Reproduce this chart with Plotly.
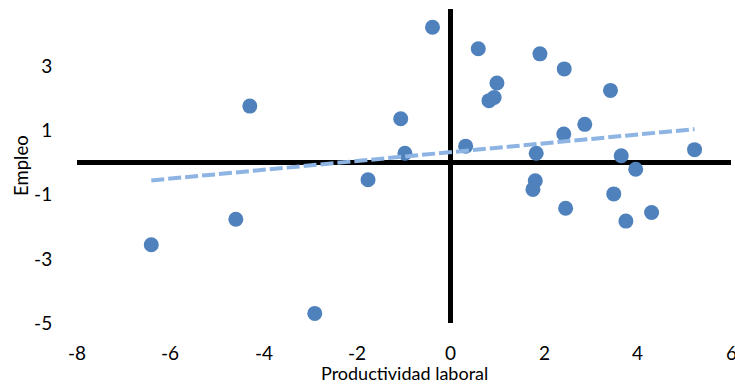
import numpy as np
import plotly.graph_objects as go

# Productividad laboral (x) vs. empleo (y)
productividad = [-4.30, -4.60, -6.41, -2.91, -1.77, -0.39, 0.59, 1.91, 2.43, 3.42,
                 0.99, 0.82, 0.93, -1.07, 2.87, 2.42, 0.32, -0.98, 1.83, 3.65,
                 5.22, 3.96, 1.81, 1.76, 3.49, 2.46, 4.30, 3.75]
empleo = [1.77, -1.76, -2.56, -4.70, -0.53, 4.23, 3.56, 3.40, 2.93, 2.26,
          2.49, 1.94, 2.04, 1.375, 1.20, 0.90, 0.52, 0.30, 0.30, 0.22,
          0.41, -0.20, -0.56, -0.83, -0.97, -1.42, -1.55, -1.82]

x_ticks = [-8, -6, -4, -2, 0, 2, 4, 6]
y_ticks = [-5, -3, -1, 1, 3]

# Linear trend over the data range
slope, intercept = np.polyfit(productividad, empleo, 1)
tx = np.array([min(productividad), max(productividad)])
ty = slope * tx + intercept

FONT = "Lato"
TICK_SIZE = 19

fig = go.Figure()
fig.add_trace(go.Scatter(
    x=productividad, y=empleo, mode="markers",
    marker=dict(size=15, color="#4F81BD"),
    showlegend=False, hoverinfo="x+y",
))
fig.add_trace(go.Scatter(
    x=tx, y=ty, mode="lines",
    line=dict(color="#8DB4E2", width=4, dash="13px,4px"),
    showlegend=False, hoverinfo="skip",
))

# Tick labels drawn as annotations so the last one may run past the edge
annotations = []
for v in x_ticks:
    annotations.append(dict(
        x=v, y=-5, xref="x", yref="y", text=str(v), showarrow=False,
        yshift=-29, font=dict(size=TICK_SIZE, family=FONT, color="black"),
        xanchor="center", yanchor="middle",
    ))
annotations.append(dict(
    x=405, y=372.5, xref="paper", yref="paper", text="Productividad laboral",
    showarrow=False, font=dict(size=18, family=FONT, color="black"),
))
annotations.append(dict(
    x=21, y=166, xref="paper", yref="paper", text="Empleo", textangle=-90,
    showarrow=False, font=dict(size=18.5, family=FONT, color="black"),
))

# Convert pixel positions of the axis titles into paper fractions
W, H = 735, 384
L, R, T, B = 77, 4, 9, 61
for a in annotations[-2:]:
    px, py = a["x"], a["y"]
    a["x"] = (px - L) / (W - L - R)
    a["y"] = (H - B - py) / (H - T - B)
    a["xanchor"] = "center"
    a["yanchor"] = "middle"

fig.update_layout(
    width=W, height=H,
    margin=dict(l=L, r=R, t=T, b=B),
    paper_bgcolor="white", plot_bgcolor="white",
    font=dict(family=FONT, color="black"),
    annotations=annotations,
    xaxis=dict(
        range=[-8, 6], tickvals=x_ticks, showticklabels=False,
        showgrid=False, showline=False, zeroline=True,
        zerolinecolor="black", zerolinewidth=4.5,
    ),
    yaxis=dict(
        range=[-5, 4.8], tickvals=y_ticks, ticktext=[str(v) for v in y_ticks],
        showgrid=False, showline=False, zeroline=True,
        zerolinecolor="black", zerolinewidth=4.5,
        ticks="outside", ticklen=20, tickcolor="rgba(0,0,0,0)",
        tickfont=dict(size=TICK_SIZE, family=FONT),
    ),
)

fig.write_html("out.html")
